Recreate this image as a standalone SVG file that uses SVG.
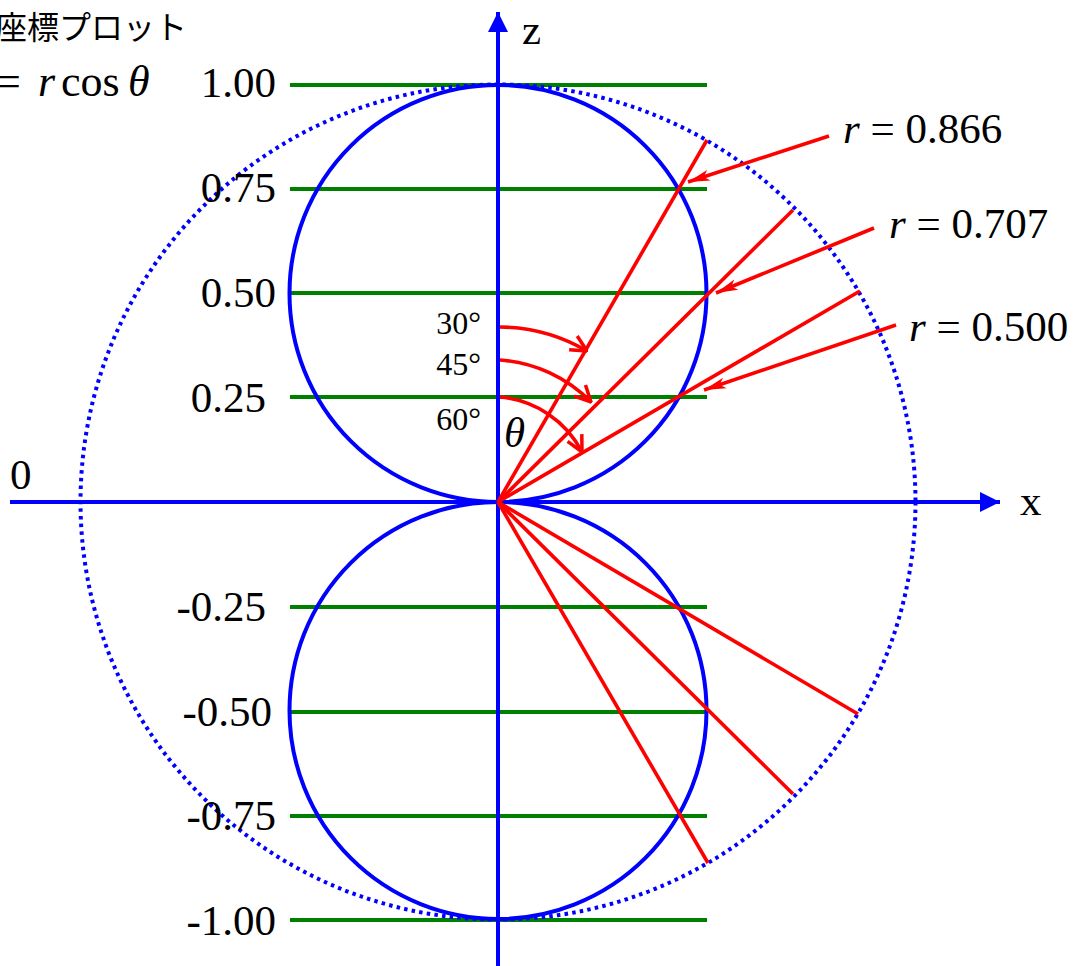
<svg xmlns="http://www.w3.org/2000/svg" width="1077" height="966" viewBox="0 0 1077 966">
<style>
.t{font-family:"Liberation Serif","Times New Roman",serif;fill:#000}
.lab{font-size:43px}
.ang{font-size:32px}
.i{font-style:italic}
.g{stroke:#008000;stroke-width:3.8;fill:none}
.b{stroke:#0000ff;stroke-width:4;fill:none}
.r{stroke:#ff0000;stroke-width:3.6;fill:none}
</style>
<defs>
<marker id="ah" viewBox="0 0 10 10" refX="10" refY="5" markerWidth="22" markerHeight="20" markerUnits="userSpaceOnUse" orient="auto">
<path d="M0,0 L10,5 L0,10 Z" fill="#0000ff"/>
</marker>
<marker id="rp" viewBox="0 0 20 10" refX="20" refY="5" markerWidth="22" markerHeight="12" markerUnits="userSpaceOnUse" orient="auto">
<path d="M0,0 L20,5 L0,10 L5,5 Z" fill="#ff0000"/>
</marker>
<marker id="rv" viewBox="0 0 20 20" refX="19" refY="10" markerWidth="20" markerHeight="20" markerUnits="userSpaceOnUse" orient="auto">
<path d="M3,2 L19,10 L3,18" fill="none" stroke="#ff0000" stroke-width="3.5"/>
</marker>
</defs>
<rect width="1077" height="966" fill="#fff"/>
<g id="title">
<text x="-5" y="39" style="font-family:'Noto Sans CJK JP','Noto Sans',sans-serif;font-size:32px">座標プロット</text>
<text class="t" y="96" style="font-size:44px"><tspan x="-4">=</tspan><tspan x="38" class="i">r</tspan><tspan x="61">cos</tspan><tspan x="128" class="i">θ</tspan></text>
</g>
<g id="grid">
<line class="g" x1="290" y1="85" x2="707" y2="85"/>
<line class="g" x1="290" y1="189" x2="707" y2="189"/>
<line class="g" x1="290" y1="293" x2="707" y2="293"/>
<line class="g" x1="290" y1="397" x2="707" y2="397"/>
<line class="g" x1="290" y1="607" x2="707" y2="607"/>
<line class="g" x1="290" y1="712" x2="707" y2="712"/>
<line class="g" x1="290" y1="816" x2="707" y2="816"/>
<line class="g" x1="290" y1="920" x2="707" y2="920"/>
</g>
<g id="circles">
<circle class="b" cx="498" cy="502" r="417.5" stroke-width="3.5" stroke-dasharray="3.5 4.2"/>
<circle class="b" cx="498" cy="293.5" r="208.5"/>
<circle class="b" cx="498" cy="710.5" r="208.5"/>
</g>
<g id="axes">
<line class="b" x1="498" y1="966" x2="498" y2="12" marker-end="url(#ah)"/>
<line class="b" x1="10" y1="502" x2="1000" y2="502" marker-end="url(#ah)"/>
</g>
<g id="connectors">
<line class="r" x1="498" y1="502" x2="707" y2="140"/>
<line class="r" x1="498" y1="502" x2="793" y2="210"/>
<line class="r" x1="498" y1="502" x2="860" y2="291"/>
<line class="r" x1="498" y1="502" x2="708" y2="863"/>
<line class="r" x1="498" y1="502" x2="793" y2="794"/>
<line class="r" x1="498" y1="502" x2="858" y2="714"/>
<line class="r" x1="829" y1="136" x2="688" y2="182" marker-end="url(#rp)"/>
<line class="r" x1="874" y1="228" x2="716" y2="293" marker-end="url(#rp)"/>
<line class="r" x1="896" y1="325" x2="704" y2="390" marker-end="url(#rp)"/>
<path class="r" d="M500,327 A175,175 0 0 1 587,351" marker-end="url(#rv)"/>
<path class="r" d="M500,360 A142,142 0 0 1 591,402" marker-end="url(#rv)"/>
<path class="r" d="M500,397 A102,102 0 0 1 582,452" marker-end="url(#rv)"/>
</g>
<g id="labels">
<text class="t lab" x="276" y="97" text-anchor="end">1.00</text>
<text class="t lab" x="276" y="202" text-anchor="end">0.75</text>
<text class="t lab" x="276" y="307" text-anchor="end">0.50</text>
<text class="t lab" x="266" y="412" text-anchor="end">0.25</text>
<text class="t lab" x="266" y="621" text-anchor="end">-0.25</text>
<text class="t lab" x="272" y="726" text-anchor="end">-0.50</text>
<text class="t lab" x="276" y="830" text-anchor="end">-0.75</text>
<text class="t lab" x="276" y="935" text-anchor="end">-1.00</text>
<text class="t lab" x="10" y="489">0</text>
<text class="t lab" x="522" y="44">z</text>
<text class="t lab" x="1020" y="515">x</text>
<text class="t ang" x="481" y="334" text-anchor="end">30°</text>
<text class="t ang" x="481" y="375" text-anchor="end">45°</text>
<text class="t ang" x="481" y="430" text-anchor="end">60°</text>
<text class="t lab i" x="504" y="447">θ</text>
<text class="t lab" x="843" y="143"><tspan class="i">r</tspan> = 0.866</text>
<text class="t lab" x="889" y="238"><tspan class="i">r</tspan> = 0.707</text>
<text class="t lab" x="909" y="341"><tspan class="i">r</tspan> = 0.500</text>
</g>
</svg>
